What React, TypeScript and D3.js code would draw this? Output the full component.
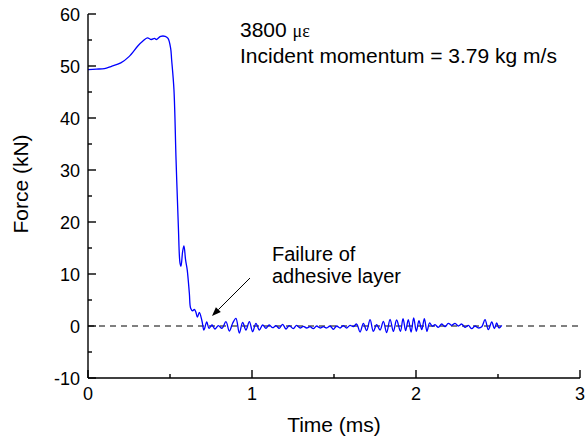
import React from "react";
import * as d3 from "d3";

const timeMs: number[] = [
  0, 0.05, 0.1, 0.14, 0.2, 0.25, 0.305, 0.335, 0.362, 0.386, 0.406, 0.417, 0.443, 0.471, 0.488, 0.504, 0.51,
  0.524, 0.537, 0.551, 0.561, 0.567, 0.577, 0.585, 0.595, 0.605, 0.618, 0.626, 0.638, 0.648, 0.657, 0.667, 0.679,
  0.695, 0.707, 0.724, 0.738, 0.756, 0.774, 0.795, 0.817, 0.841, 0.862, 0.882, 0.902, 0.923, 0.943, 0.963, 0.984,
  1.004, 1.024, 1.045, 1.065, 1.085, 1.105, 1.126, 1.146, 1.166, 1.187, 1.207, 1.227,
  1.252, 1.272, 1.293, 1.313, 1.333, 1.354, 1.374, 1.394, 1.415, 1.435, 1.455, 1.476, 1.496, 1.516, 1.537, 1.557,
  1.577, 1.598, 1.618, 1.638, 1.659, 1.679, 1.699, 1.72, 1.74, 1.76, 1.781, 1.801, 1.821, 1.842, 1.862, 1.882,
  1.905, 1.921, 1.937, 1.953, 1.97, 1.986, 2.002, 2.018, 2.035, 2.051, 2.067, 2.083, 2.1, 2.116, 2.136, 2.157,
  2.177, 2.197, 2.218, 2.238, 2.258, 2.279, 2.299, 2.319, 2.34, 2.36, 2.38, 2.401, 2.421, 2.441, 2.462, 2.478,
  2.492, 2.506, 2.523,
];

const forceKN: number[] = [
  49.3, 49.4, 49.5, 49.9, 50.6, 51.8, 53.9, 54.8, 55.4, 55.1, 55.3, 55.1, 55.7, 55.7, 55.3, 53.4, 51.2,
  45.5, 31.9, 19.1, 12.1, 11.5, 14.3, 15.4, 12.7, 10.8, 6.3, 3.4, 2.9, 3.2, 2.75, 1.7, 2.6,
  0.96, -0.77, 0.77, -0.44, 0.19, -0.58, 0.06, -0.44, 0.83, -0.96, 0.52, 1.48, -1.35, 0.71, -0.77, 0.83,
  -1.1, 0.52, -0.77, 0.19, -0.44, 0.19, -0.33, 0.06, -0.44, 0.33, -0.58, 0.06,
  -0.51, 0.13, -0.38, -0.06, -0.38, -0.13, -0.51, 0, -0.38, -0.13, -0.38, 0, -0.64, 0, -0.38, 0.06,
  -0.38, 0.13, -0.13, 0.38, -1.15, 0.51, -0.9, 1.22, -1.03, 0.26, -0.77, 0.9, -1.28, 1.28, -1.03, 1.15,
  -1.03, 1.41, -0.9, 1.22, -1.15, 1.54, -1.03, 1.03, -0.71, 1.41, -1.03, 0.58, -0.06, 0.26, -0.26, 0.38,
  -0.13, 0.51, 0.13, 0.51, 0, 0.38, -0.26, 0.13, -0.51, 0, -0.38, -0.13, 1.22, -0.71, 0.77, -0.51,
  0.58, -0.38, 0.13,
];

const xTicksMajor: number[] = [0, 1, 2, 3];
const xTicksMinor: number[] = [0.5, 1.5, 2.5];
const yTicksMajor: number[] = [-10, 0, 10, 20, 30, 40, 50, 60];
const yTicksMinor: number[] = [-5, 5, 15, 25, 35, 45, 55];

const W = 588;
const H = 441;
const left = 88;
const right = 580;
const top = 14;
const bottom = 378;

export default function App() {
  const x = d3.scaleLinear().domain([0, 3]).range([left, right]);
  const y = d3.scaleLinear().domain([-10, 60]).range([bottom, top]);
  const pts: [number, number][] = timeMs.map((t, i) => [t, forceKN[i]]);
  const line = d3
    .line<[number, number]>()
    .x((d) => x(d[0]))
    .y((d) => y(d[1]))
    .curve(d3.curveCatmullRom.alpha(0.5));
  const font = "'Liberation Sans', Arial, sans-serif";

  const ax1 = 250, ay1 = 278, ax2 = 212, ay2 = 316;
  const ang = Math.atan2(ay2 - ay1, ax2 - ax1);
  const hl = 9, hw = 3.5;
  const bx = ax2 - hl * Math.cos(ang);
  const by = ay2 - hl * Math.sin(ang);
  const head = `${ax2},${ay2} ${bx + hw * Math.sin(ang)},${by - hw * Math.cos(ang)} ${bx - hw * Math.sin(ang)},${by + hw * Math.cos(ang)}`;

  return (
    <svg width={W} height={H} style={{ position: "absolute", left: 0, top: 0, background: "#fff" }} fontFamily={font}>
      <line x1={x(0)} x2={x(3)} y1={y(0)} y2={y(0)} stroke="#000" strokeWidth={1} strokeDasharray="6,5" />
      <path d={line(pts) || ""} fill="none" stroke="#0000ff" strokeWidth={1.3} />
      <line x1={left} x2={left} y1={top} y2={bottom} stroke="#000" strokeWidth={1.4} />
      <line x1={left} x2={right} y1={bottom} y2={bottom} stroke="#000" strokeWidth={1.4} />
      {yTicksMajor.map((v) => (
        <g key={"ym" + v}>
          <line x1={left} x2={left + 8} y1={y(v)} y2={y(v)} stroke="#000" strokeWidth={1.4} />
          <text x={80} y={y(v) + 6.5} textAnchor="end" fontSize={18}>{v}</text>
        </g>
      ))}
      {yTicksMinor.map((v) => (
        <line key={"yn" + v} x1={left} x2={left + 4} y1={y(v)} y2={y(v)} stroke="#000" strokeWidth={1.4} />
      ))}
      {xTicksMajor.map((v) => (
        <g key={"xm" + v}>
          <line x1={x(v)} x2={x(v)} y1={bottom} y2={bottom - 8} stroke="#000" strokeWidth={1.4} />
          <text x={x(v)} y={400} textAnchor="middle" fontSize={18}>{v}</text>
        </g>
      ))}
      {xTicksMinor.map((v) => (
        <line key={"xn" + v} x1={x(v)} x2={x(v)} y1={bottom} y2={bottom - 4} stroke="#000" strokeWidth={1.4} />
      ))}
      <text x={(left + right) / 2} y={432} textAnchor="middle" fontSize={21}>Time (ms)</text>
      <text transform={`translate(28,${(top + bottom) / 2 - 12}) rotate(-90)`} textAnchor="middle" fontSize={21}>Force (kN)</text>
      <text x={240} y={37} fontSize={21}>
        3800 <tspan fontFamily="'Liberation Serif', 'DejaVu Serif', serif" fontSize={18}>με</tspan>
      </text>
      <text x={240} y={63} fontSize={21}>Incident momentum = 3.79 kg m/s</text>
      <text x={272} y={261} fontSize={20}>Failure of</text>
      <text x={272} y={283} fontSize={20}>adhesive layer</text>
      <line x1={ax1} y1={ay1} x2={bx} y2={by} stroke="#000" strokeWidth={1} />
      <polygon points={head} fill="#000" />
    </svg>
  );
}
